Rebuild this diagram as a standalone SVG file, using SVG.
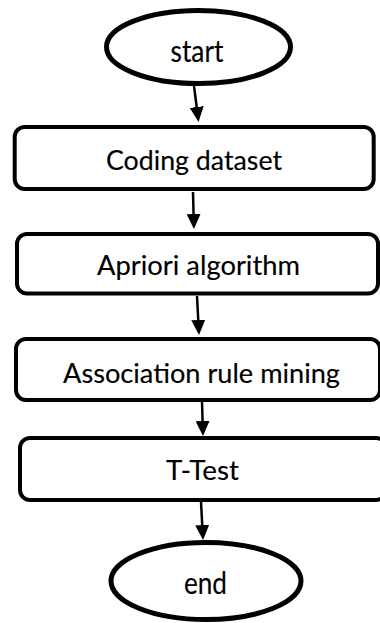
<svg xmlns="http://www.w3.org/2000/svg" width="380" height="623" viewBox="0 0 380 623">
  <style>
    .term { fill: #ffffff; stroke: #000000; stroke-width: 5; }
    .step { fill: #ffffff; stroke: #000000; stroke-width: 4; }
    .label { font-family: Lato, "Open Sans", "Liberation Sans", sans-serif; font-size: 26px; fill: #000000; stroke: #000000; stroke-width: 0.15; text-anchor: middle; }
    .big { font-size: 30px; }
    .mid { font-size: 27px; }
    .flow { stroke: #000000; stroke-width: 2.5; fill: none; marker-end: url(#head); }
  </style>
  <defs>
    <marker id="head" viewBox="0 0 15 14" markerUnits="userSpaceOnUse" markerWidth="15" markerHeight="14" refX="1" refY="7" orient="auto">
      <path d="M0,0 L15,7 L0,14 Z" fill="#000000"/>
    </marker>
  </defs>
  <rect width="380" height="623" fill="#ffffff"/>

  <g id="connectors">
    <path class="flow" d="M194,86 L196.8,108"/>
    <path class="flow" d="M193,192 L193.6,215"/>
    <path class="flow" d="M197,296 L198.3,321"/>
    <path class="flow" d="M202,401 L202.6,422"/>
    <path class="flow" d="M201,502 L202.3,526"/>
  </g>

  <g id="start">
    <ellipse class="term" cx="198.5" cy="47" rx="92" ry="36.5"/>
    <text class="label big" x="197" y="62" textLength="53" lengthAdjust="spacingAndGlyphs">start</text>
  </g>

  <g id="coding-dataset">
    <rect class="step" x="14.7" y="127" width="359" height="62" rx="10"/>
    <text class="label" x="194" y="170" textLength="176" lengthAdjust="spacingAndGlyphs">Coding dataset</text>
  </g>

  <g id="apriori">
    <rect class="step" x="17" y="234" width="361" height="59.5" rx="10"/>
    <text class="label mid" x="198.5" y="275" textLength="203" lengthAdjust="spacingAndGlyphs">Apriori algorithm</text>
  </g>

  <g id="association-rules">
    <rect class="step" x="16" y="339" width="364" height="61" rx="10"/>
    <text class="label" x="201.5" y="383" textLength="277" lengthAdjust="spacingAndGlyphs">Association rule mining</text>
  </g>

  <g id="t-test">
    <rect class="step" x="20" y="438" width="366" height="62" rx="10"/>
    <text class="label mid" x="202.5" y="480" textLength="73" lengthAdjust="spacingAndGlyphs">T-Test</text>
  </g>

  <g id="end">
    <ellipse class="term" cx="206" cy="581" rx="95" ry="38.5"/>
    <text class="label big" x="205.5" y="594" textLength="43" lengthAdjust="spacingAndGlyphs">end</text>
  </g>
</svg>
